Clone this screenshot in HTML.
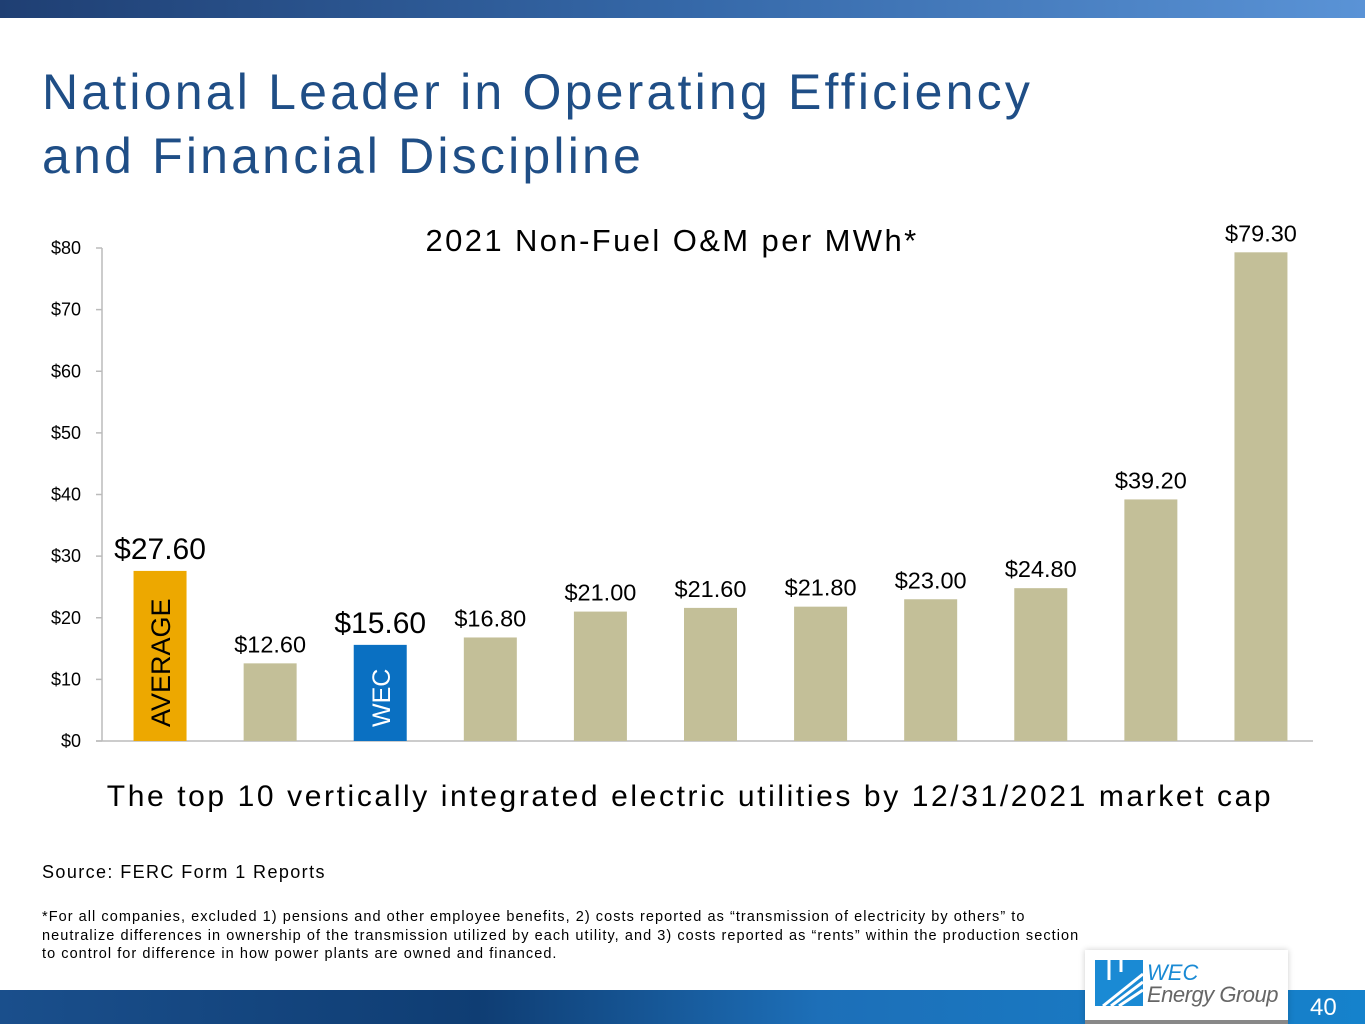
<!DOCTYPE html>
<html><head><meta charset="utf-8"><style>
body{margin:0;width:1365px;height:1024px;position:relative;background:#fff;font-family:"Liberation Sans",Arial,sans-serif;overflow:hidden}
.abs{position:absolute}
</style></head><body>
<div class="abs" style="left:0;top:0;width:1365px;height:18px;background:linear-gradient(90deg,#1f3f73 0%,#3568a8 50%,#5a93d6 100%)"></div>
<div class="abs" style="left:42px;top:60px;font-size:50px;line-height:64px;color:#1f4e86;letter-spacing:3.2px">National Leader in Operating Efficiency<br>and Financial Discipline</div>
<svg class="abs" style="left:0;top:0" width="1365" height="1024">
<text x="672" y="251" font-size="31" text-anchor="middle" fill="#000" letter-spacing="2.4">2021 Non-Fuel O&amp;M per MWh*</text>
<g id="axes"></g><g id="bars"></g>
<text x="690" y="806" font-size="30" text-anchor="middle" fill="#000" letter-spacing="2.6">The top 10 vertically integrated electric utilities by 12/31/2021 market cap</text>
</svg>
<div class="abs" style="left:42px;top:862px;font-size:18px;letter-spacing:1.4px">Source: FERC Form 1 Reports</div>
<div class="abs" style="left:42px;top:908px;font-size:14.5px;line-height:18.5px;letter-spacing:1.05px">*For all companies, excluded 1) pensions and other employee benefits, 2) costs reported as “transmission of electricity by others” to<br>neutralize differences in ownership of the transmission utilized by each utility, and 3) costs reported as “rents” within the production section<br>to control for difference in how power plants are owned and financed.</div>
<div class="abs" style="left:0;top:990px;width:1365px;height:34px;background:linear-gradient(90deg,#1a4f8c 0%,#0f3d73 35%,#1d6fb8 60%,#1582cc 100%)"></div>
<div class="abs" style="left:1085px;top:950px;width:203px;height:74px;background:#fff;box-shadow:0 0 6px rgba(0,0,0,0.2)">
 <div class="abs" style="left:0;bottom:0;width:203px;height:4px;background:#888"></div>
 <svg class="abs" style="left:10px;top:10px" width="48" height="46">
  <rect x="0" y="0" width="48" height="46" fill="#1a8ad4"/>
  <g stroke="#fff" stroke-width="3"><line x1="8" y1="46" x2="48" y2="14"/><line x1="16" y1="46" x2="48" y2="22"/><line x1="24" y1="46" x2="48" y2="30"/><line x1="14" y1="0" x2="14" y2="20"/><line x1="26" y1="0" x2="26" y2="12"/></g>
 </svg>
 <div class="abs" style="left:62px;top:12px;font-size:22px;font-style:italic;color:#1a8ad4;line-height:22px">WEC</div>
 <div class="abs" style="left:62px;top:34px;font-size:22px;font-style:italic;color:#666;line-height:22px;letter-spacing:-0.5px">Energy Group</div>
</div>
<div class="abs" style="left:1310px;top:994px;font-size:24px;color:#fff">40</div>
<script>
const categories=["AVERAGE","U1","WEC","U3","U4","U5","U6","U7","U8","U9","U10"];
const values=[27.6,12.6,15.6,16.8,21.0,21.6,21.8,23.0,24.8,39.2,79.3];
const labels=["$27.60","$12.60","$15.60","$16.80","$21.00","$21.60","$21.80","$23.00","$24.80","$39.20","$79.30"];
const ticks=[0,10,20,30,40,50,60,70,80];
const NS="http://www.w3.org/2000/svg";
const x0=102,x1=1313,yb=741,yt=248,ymax=80;
const y=v=>yb-(v/ymax)*(yb-yt);
const slot=(x1-x0)/categories.length;
const xc=i=>x0+slot*(i+0.5)+3;
function mk(t,a,p){const e=document.createElementNS(NS,t);for(const k in a)e.setAttribute(k,a[k]);p.appendChild(e);return e;}
const ax=document.getElementById('axes'),bg=document.getElementById('bars');
const yl=mk('line',{x1:x0,y1:yt,x2:x0,y2:yb,stroke:'#bbb','stroke-width':1.5},ax);


const xl=mk('line',{x1:x0-6,y1:yb,x2:x1,y2:yb,stroke:'#bbb','stroke-width':1.5},ax);


ticks.forEach(t=>{
 mk('line',{x1:x0-6,y1:y(t),x2:x0,y2:y(t),stroke:'#bbb','stroke-width':1.5},ax);
 const tx=mk('text',{x:x0-21,y:y(t)+6,'font-size':18,'text-anchor':'end',fill:'#000'},ax);
 tx.textContent='$'+t;
 
 
});
values.forEach((v,i)=>{
 const w=53,cx=xc(i);
 const fill=i===0?'#eda800':i===2?'#0a70c2':'#c3bf98';
 const r=mk('rect',{x:cx-w/2,y:y(v),width:w,height:yb-y(v),fill:fill},bg);
 
 
 const big=(i===0||i===2);
 const t=mk('text',{x:cx,y:y(v)-(big?12:11),'font-size':big?30:23.5,'text-anchor':'middle',fill:'#000'},bg);
 t.textContent=labels[i];
 
 
 if(big){
  const lt=mk('text',{x:0,y:0,'font-size':i===0?27:25,'text-anchor':'start',fill:i===0?'#000':'#fff',transform:`translate(${cx+10},${yb-14}) rotate(-90)`},bg);
  lt.textContent=categories[i];
  
  
 }
});
</script>
</body></html>
